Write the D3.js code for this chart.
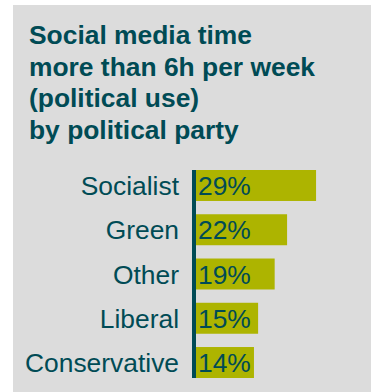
<!DOCTYPE html>
<html>
<head>
<meta charset="utf-8">
<script src="https://cdn.jsdelivr.net/npm/d3@7/dist/d3.min.js"></script>
<style>
  html, body { margin: 0; padding: 0; background: #ffffff; }
  svg { display: block; }
</style>
</head>
<body>
<svg id="chart" width="371" height="392"></svg>
<script>
const titleLines = ["Social media time", "more than 6h per week", "(political use)", "by political party"];
const categories = ["Socialist", "Green", "Other", "Liberal", "Conservative"];
const values = [29, 22, 19, 15, 14];
const valueLabels = ["29%", "22%", "19%", "15%", "14%"];

const svg = d3.select("#chart");
const W = 371, H = 392;
const teal = "#004b55";
const barColor = "#adb400";

svg.append("rect").attr("x", 13).attr("y", 5).attr("width", W - 13).attr("height", H - 5).attr("fill", "#dcdcdc");

const title = svg.append("text")
  .attr("x", 29)
  .attr("fill", teal)
  .style("font-family", "'Liberation Sans', Arial, sans-serif")
  .style("font-weight", "bold")
  .style("font-size", "26.4px");
titleLines.forEach((t, i) => {
  title.append("tspan").attr("x", 29).attr("y", 44 + i * 31.7).text(t);
});

const y = d3.scaleBand().domain(categories).range([170, 378]).paddingInner(0.3).paddingOuter(0);
const x = d3.scaleLinear().domain([0, 30]).range([196, 320.2]);

const data = categories.map((c, i) => ({ c, v: values[i], l: valueLabels[i] }));

svg.append("g").selectAll("rect").data(data).join("rect")
  .attr("x", x(0))
  .attr("y", d => y(d.c))
  .attr("width", d => x(d.v) - x(0))
  .attr("height", y.bandwidth())
  .attr("fill", barColor);

svg.append("line")
  .attr("x1", 194).attr("x2", 194)
  .attr("y1", y.range()[0]).attr("y2", y.range()[1])
  .attr("stroke", teal).attr("stroke-width", 4);

const fontStyle = sel => sel
  .style("font-family", "'Liberation Sans', Arial, sans-serif")
  .style("font-size", "26.4px")
  .attr("fill", teal);

svg.append("g").selectAll("text").data(data).join("text")
  .attr("x", 179)
  .attr("y", d => y(d.c) + y.bandwidth() / 2 + 9.5)
  .attr("text-anchor", "end")
  .call(fontStyle)
  .text(d => d.c);

svg.append("g").selectAll("text").data(data).join("text")
  .attr("x", 198)
  .attr("y", d => y(d.c) + y.bandwidth() / 2 + 9.5)
  .call(fontStyle)
  .text(d => d.l);
</script>
</body>
</html>
